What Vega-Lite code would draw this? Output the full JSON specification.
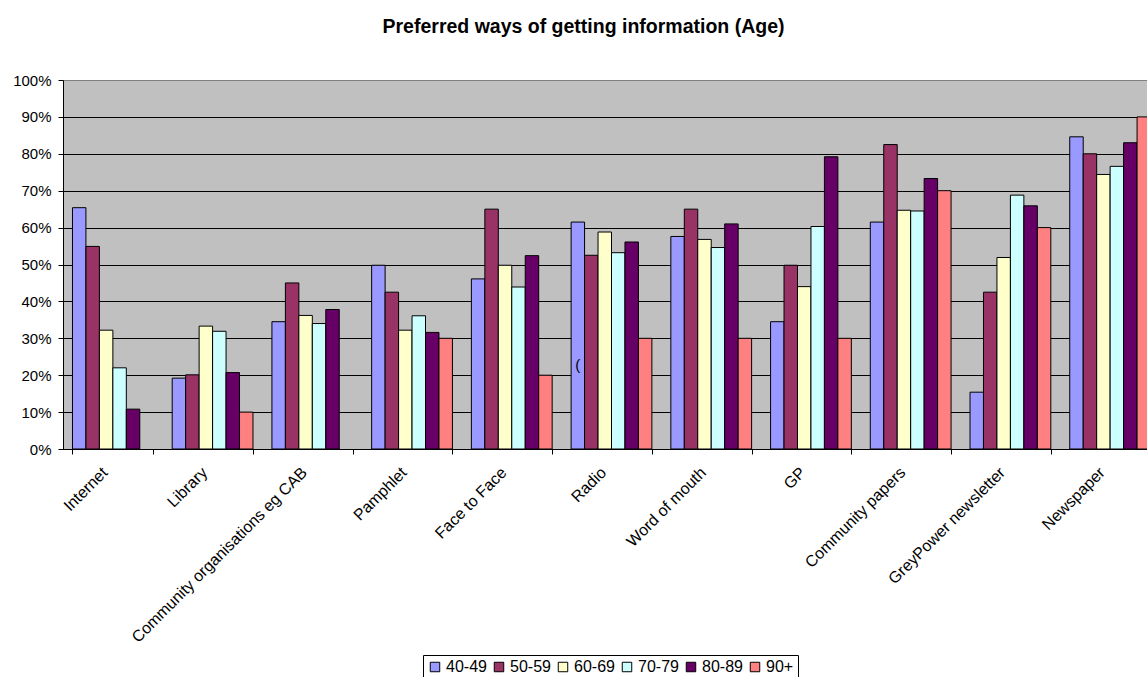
{
  "$schema": "https://vega.github.io/schema/vega-lite/v6.json",
  "width": 1097,
  "height": 369,
  "autosize": "none",
  "padding": {"left": 63, "top": 80, "right": 0, "bottom": 228},
  "background": "white",
  "title": {"text": "Preferred ways of getting information (Age)", "font": "Liberation Sans", "fontSize": 19.5, "fontWeight": "bold", "color": "black", "anchor": "middle", "dx": -28, "offset": 36},
  "config": {
    "view": {"fill": "#C0C0C0", "stroke": "#808080"},
    "axis": {"labelFont": "Liberation Sans", "labelFontSize": 15, "labelColor": "black", "domainColor": "black", "tickColor": "black", "title": null}
  },
  "data": {"values": [
    {"source": "Internet", "age": "40-49", "share": 0.654},
    {"source": "Internet", "age": "50-59", "share": 0.549},
    {"source": "Internet", "age": "60-69", "share": 0.322},
    {"source": "Internet", "age": "70-79", "share": 0.220},
    {"source": "Internet", "age": "80-89", "share": 0.108},
    {"source": "Library", "age": "40-49", "share": 0.192},
    {"source": "Library", "age": "50-59", "share": 0.201},
    {"source": "Library", "age": "60-69", "share": 0.333},
    {"source": "Library", "age": "70-79", "share": 0.319},
    {"source": "Library", "age": "80-89", "share": 0.207},
    {"source": "Library", "age": "90+", "share": 0.10},
    {"source": "Community organisations eg CAB", "age": "40-49", "share": 0.345},
    {"source": "Community organisations eg CAB", "age": "50-59", "share": 0.450},
    {"source": "Community organisations eg CAB", "age": "60-69", "share": 0.362},
    {"source": "Community organisations eg CAB", "age": "70-79", "share": 0.340},
    {"source": "Community organisations eg CAB", "age": "80-89", "share": 0.378},
    {"source": "Pamphlet", "age": "40-49", "share": 0.498},
    {"source": "Pamphlet", "age": "50-59", "share": 0.425},
    {"source": "Pamphlet", "age": "60-69", "share": 0.322},
    {"source": "Pamphlet", "age": "70-79", "share": 0.361},
    {"source": "Pamphlet", "age": "80-89", "share": 0.316},
    {"source": "Pamphlet", "age": "90+", "share": 0.30},
    {"source": "Face to Face", "age": "40-49", "share": 0.461},
    {"source": "Face to Face", "age": "50-59", "share": 0.650},
    {"source": "Face to Face", "age": "60-69", "share": 0.498},
    {"source": "Face to Face", "age": "70-79", "share": 0.439},
    {"source": "Face to Face", "age": "80-89", "share": 0.524},
    {"source": "Face to Face", "age": "90+", "share": 0.20},
    {"source": "Radio", "age": "40-49", "share": 0.615},
    {"source": "Radio", "age": "50-59", "share": 0.525},
    {"source": "Radio", "age": "60-69", "share": 0.588},
    {"source": "Radio", "age": "70-79", "share": 0.532},
    {"source": "Radio", "age": "80-89", "share": 0.561},
    {"source": "Radio", "age": "90+", "share": 0.30},
    {"source": "Word of mouth", "age": "40-49", "share": 0.576},
    {"source": "Word of mouth", "age": "50-59", "share": 0.650},
    {"source": "Word of mouth", "age": "60-69", "share": 0.568},
    {"source": "Word of mouth", "age": "70-79", "share": 0.546},
    {"source": "Word of mouth", "age": "80-89", "share": 0.610},
    {"source": "Word of mouth", "age": "90+", "share": 0.30},
    {"source": "GP", "age": "40-49", "share": 0.345},
    {"source": "GP", "age": "50-59", "share": 0.498},
    {"source": "GP", "age": "60-69", "share": 0.440},
    {"source": "GP", "age": "70-79", "share": 0.603},
    {"source": "GP", "age": "80-89", "share": 0.792},
    {"source": "GP", "age": "90+", "share": 0.30},
    {"source": "Community papers", "age": "40-49", "share": 0.615},
    {"source": "Community papers", "age": "50-59", "share": 0.825},
    {"source": "Community papers", "age": "60-69", "share": 0.647},
    {"source": "Community papers", "age": "70-79", "share": 0.645},
    {"source": "Community papers", "age": "80-89", "share": 0.733},
    {"source": "Community papers", "age": "90+", "share": 0.70},
    {"source": "GreyPower newsletter", "age": "40-49", "share": 0.154},
    {"source": "GreyPower newsletter", "age": "50-59", "share": 0.425},
    {"source": "GreyPower newsletter", "age": "60-69", "share": 0.519},
    {"source": "GreyPower newsletter", "age": "70-79", "share": 0.688},
    {"source": "GreyPower newsletter", "age": "80-89", "share": 0.659},
    {"source": "GreyPower newsletter", "age": "90+", "share": 0.60},
    {"source": "Newspaper", "age": "40-49", "share": 0.846},
    {"source": "Newspaper", "age": "50-59", "share": 0.800},
    {"source": "Newspaper", "age": "60-69", "share": 0.744},
    {"source": "Newspaper", "age": "70-79", "share": 0.766},
    {"source": "Newspaper", "age": "80-89", "share": 0.830},
    {"source": "Newspaper", "age": "90+", "share": 0.90}
  ]},
  "encoding": {
    "x": {"field": "source", "type": "nominal",
      "scale": {"domain": ["Internet", "Library", "Community organisations eg CAB", "Pamphlet", "Face to Face", "Radio", "Word of mouth", "GP", "Community papers", "GreyPower newsletter", "Newspaper"], "paddingInner": 0.19, "paddingOuter": 0.095},
      "axis": {"labelAngle": -45, "labelFontSize": 16, "labelLimit": 0, "tickBand": "extent", "tickSize": 5, "grid": false, "labelPadding": 10, "labelOffset": -14}},
    "xOffset": {"field": "age", "type": "nominal", "scale": {"domain": ["40-49", "50-59", "60-69", "70-79", "80-89", "90+"], "paddingInner": 0, "paddingOuter": 0}},
    "y": {"field": "share", "type": "quantitative", "scale": {"domain": [0, 1]},
      "axis": {"format": ".0%", "values": [0, 0.1, 0.2, 0.3, 0.4, 0.5, 0.6, 0.7, 0.8, 0.9, 1], "labelOverlap": false, "tickSize": 5, "labelPadding": 7, "grid": true,
        "gridColor": {"condition": {"test": "datum.value >= 1", "value": "#808080"}, "value": "black"}}}
  },
  "layer": [
    {
      "mark": {"type": "bar", "stroke": "black", "strokeWidth": 1},
      "encoding": {
        "color": {"field": "age", "type": "nominal",
          "scale": {"domain": ["40-49", "50-59", "60-69", "70-79", "80-89", "90+"], "range": ["#9999FF", "#993366", "#FFFFCC", "#CCFFFF", "#660066", "#FF8080"]},
          "legend": {"orient": "none", "legendX": 360, "legendY": 575, "direction": "horizontal", "title": null, "strokeColor": "black", "fillColor": "white", "padding": 4, "symbolType": "square", "symbolSize": 90, "symbolStrokeColor": "black", "symbolStrokeWidth": 1, "symbolOpacity": 1, "labelFont": "Liberation Sans", "labelFontSize": 16, "labelColor": "black", "labelOffset": 3, "columnPadding": 4}}
      }
    },
    {
      "data": {"values": [{"source": "Radio", "age": "40-49", "share": 0.228, "label": "("}]},
      "mark": {"type": "text", "font": "Liberation Sans", "fontSize": 15, "color": "black"},
      "encoding": {
        "text": {"field": "label"}
      }
    }
  ]
}
